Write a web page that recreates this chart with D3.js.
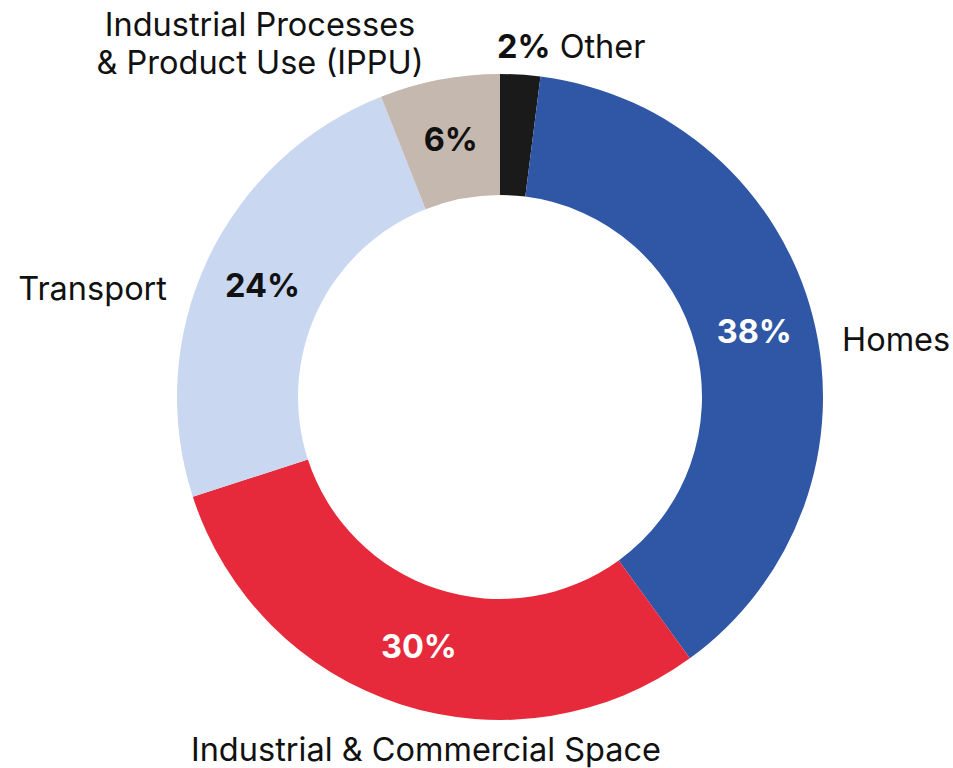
<!DOCTYPE html>
<html>
<head>
<meta charset="utf-8">
<script src="https://cdn.jsdelivr.net/npm/d3@7"></script>
<style>
  html, body { margin: 0; padding: 0; background: #fff; }
  svg { display: block; font-family: Inter, "Liberation Sans", Arial, sans-serif; }
</style>
</head>
<body>
<svg id="chart" width="953" height="768"></svg>
<script>
// Emission shares by sector, clockwise from 12 o'clock
const sectors = ["Other", "Homes", "Industrial & Commercial Space", "Transport", "Industrial Processes & Product Use (IPPU)"];
const shares = [2, 38, 30, 24, 6];
const colors = ["#1a1a1a", "#2f57a5", "#e62a3b", "#c9d7f0", "#c5b8ae"];
const valueTextColors = ["#111", "#fff", "#fff", "#111", "#111"];

const svg = d3.select("#chart");
const cx = 500, cy = 397;
const outerR = 323, innerR = 202;

const data = sectors.map((s, i) => ({ sector: s, value: shares[i], color: colors[i], textColor: valueTextColors[i] }));

const pie = d3.pie().value(d => d.value).sort(null);
const arc = d3.arc().innerRadius(innerR).outerRadius(outerR);
const arcs = pie(data);

const g = svg.append("g").attr("transform", `translate(${cx},${cy})`);

g.selectAll("path.slice")
  .data(arcs)
  .enter().append("path")
  .attr("class", "slice")
  .attr("d", arc)
  .attr("fill", d => d.data.color);

// Percentage labels inside the ring (the small "Other" slice is labelled outside)
g.selectAll("text.pct")
  .data(arcs.filter(d => d.data.value >= 5))
  .enter().append("text")
  .attr("class", "pct")
  .attr("transform", d => {
    const [x, y] = arc.centroid(d);
    return `translate(${x},${y})`;
  })
  .attr("text-anchor", "middle")
  .attr("dy", "0.36em")
  .attr("font-size", 32.5)
  .attr("font-weight", 700)
  .attr("fill", d => d.data.textColor)
  .text(d => d.data.value + "%");

// Category names around the ring
const nameSize = 32.5;

svg.append("text")
  .attr("x", 842).attr("y", 339).attr("dy", "0.36em")
  .attr("font-size", nameSize).attr("fill", "#111")
  .text(sectors[1]);

svg.append("text")
  .attr("x", 167).attr("y", 288).attr("dy", "0.36em")
  .attr("text-anchor", "end")
  .attr("font-size", nameSize).attr("fill", "#111")
  .text(sectors[3]);

svg.append("text")
  .attr("x", 426).attr("y", 749).attr("dy", "0.36em")
  .attr("text-anchor", "middle")
  .attr("font-size", nameSize).attr("fill", "#111")
  .text(sectors[2]);

const ippu = svg.append("text")
  .attr("text-anchor", "middle")
  .attr("font-size", nameSize).attr("fill", "#111");
ippu.append("tspan").attr("x", 260).attr("y", 24).attr("dy", "0.36em").text("Industrial Processes");
ippu.append("tspan").attr("x", 260).attr("y", 62).attr("dy", "0.36em").text("& Product Use (IPPU)");

const other = svg.append("text")
  .attr("x", 497).attr("y", 46).attr("dy", "0.36em")
  .attr("font-size", nameSize).attr("fill", "#111");
other.append("tspan").attr("font-weight", 700).text(shares[0] + "%");
other.append("tspan").text(" " + sectors[0]);
</script>
</body>
</html>
